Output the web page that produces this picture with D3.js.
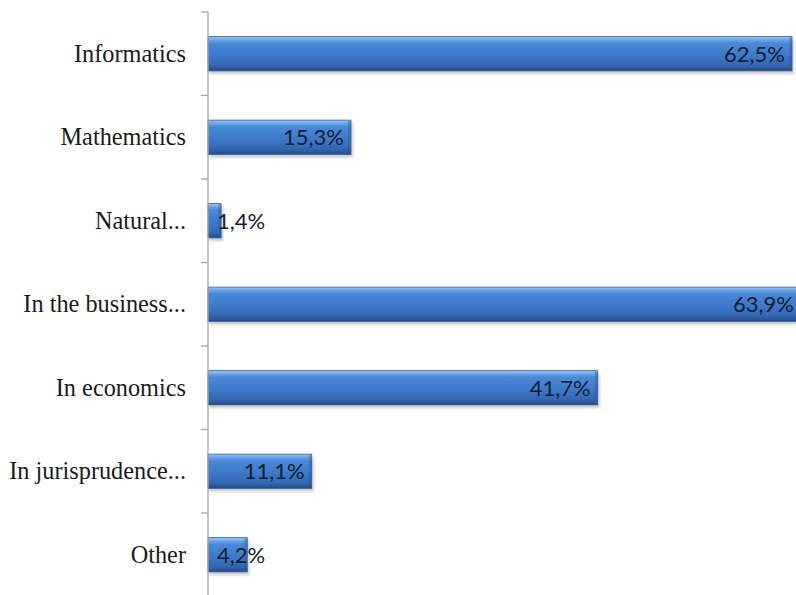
<!DOCTYPE html>
<html>
<head>
<meta charset="utf-8">
<script src="https://cdn.jsdelivr.net/npm/d3@7"></script>
<style>
  html, body { margin: 0; padding: 0; background: #fff; }
  svg { display: block; }
</style>
</head>
<body>
<script>
// Share of responses by field (percent)
const categories = ["Informatics", "Mathematics", "Natural...", "In the business...", "In economics", "In jurisprudence...", "Other"];
const values = [62.5, 15.3, 1.4, 63.9, 41.7, 11.1, 4.2];
const valueLabels = ["62,5%", "15,3%", "1,4%", "63,9%", "41,7%", "11,1%", "4,2%"];

const W = 796, H = 595;
const margin = { left: 208, top: 12 };
const bandH = 83.5;

const svg = d3.select("body").append("svg")
  .attr("width", W).attr("height", H);

const x = d3.scaleLinear().domain([0, 62.5]).range([margin.left, 792]);
const y = d3.scaleBand().domain(categories)
  .range([margin.top, margin.top + bandH * categories.length])
  .paddingInner(0.59).paddingOuter(0.295);

const defs = svg.append("defs");
const grad = defs.append("linearGradient").attr("id", "barFill")
  .attr("x1", 0).attr("y1", 0).attr("x2", 0).attr("y2", 1);
[[0, "#9cc6f2"], [0.1, "#6aa3e6"], [0.2, "#4a89d8"], [0.55, "#3d79ca"], [0.85, "#3366b0"], [0.94, "#2b5696"], [1, "#22467c"]]
  .forEach(([o, c]) => grad.append("stop").attr("offset", o).attr("stop-color", c));
const blur = defs.append("filter").attr("id", "shadow")
  .attr("x", "-5%").attr("y", "-50%").attr("width", "110%").attr("height", "200%");
blur.append("feGaussianBlur").attr("stdDeviation", 1.6);

const rows = svg.append("g").selectAll("g").data(categories).join("g");

// soft drop shadow under each bar
rows.append("rect")
  .attr("x", margin.left + 1)
  .attr("y", d => y(d) + 3)
  .attr("width", (d, i) => x(values[i]) - margin.left + 1)
  .attr("height", y.bandwidth())
  .attr("fill", "#9a9a9a").attr("opacity", 0.55)
  .attr("filter", "url(#shadow)");

rows.append("rect")
  .attr("x", margin.left)
  .attr("y", d => y(d))
  .attr("width", (d, i) => x(values[i]) - margin.left)
  .attr("height", y.bandwidth())
  .attr("fill", "url(#barFill)")
  .attr("stroke", "#2f5f9f").attr("stroke-width", 0.8);

// bevel at the right end of each bar
rows.append("rect")
  .attr("x", (d, i) => x(values[i]) - 3)
  .attr("y", d => y(d) + 1)
  .attr("width", 3)
  .attr("height", y.bandwidth() - 2)
  .attr("fill", "#2a5594").attr("opacity", 0.35);

// axis line with ticks on band boundaries
const axisG = svg.append("g");
axisG.append("line")
  .attr("x1", margin.left).attr("x2", margin.left)
  .attr("y1", margin.top).attr("y2", H)
  .attr("stroke", "#a6a6a6").attr("stroke-width", 1.3);
axisG.selectAll("line.tick")
  .data(d3.range(categories.length + 1))
  .join("line").attr("class", "tick")
  .attr("x1", margin.left - 7).attr("x2", margin.left)
  .attr("y1", k => margin.top + k * bandH)
  .attr("y2", k => margin.top + k * bandH)
  .attr("stroke", "#a6a6a6").attr("stroke-width", 1.3);

// category labels
svg.append("g").selectAll("text").data(categories).join("text")
  .attr("x", 186)
  .attr("y", d => y(d) + y.bandwidth() / 2)
  .attr("dy", "0.33em")
  .attr("text-anchor", "end")
  .attr("font-family", "'Liberation Serif', 'Times New Roman', serif")
  .attr("font-size", 24.3)
  .attr("fill", "#1a1a1a")
  .text(d => d);

// value labels: inside the bar end, or from the bar base when the bar is short
const valG = svg.append("g");
rows.each(function (d, i) {
  const t = valG.append("text")
    .attr("y", y(d) + y.bandwidth() / 2)
    .attr("dy", "0.36em")
    .attr("font-family", "Lato, 'Open Sans', sans-serif")
    .attr("font-size", 22)
    .attr("fill", "#131d2e")
    .text(valueLabels[i]);
  const w = t.node().getComputedTextLength();
  const end = Math.min(x(values[i]) - 7, W - 2);
  if (end - w < margin.left + 9) {
    t.attr("x", margin.left + 9).attr("text-anchor", "start");
  } else {
    t.attr("x", end).attr("text-anchor", "end");
  }
});
</script>
</body>
</html>
